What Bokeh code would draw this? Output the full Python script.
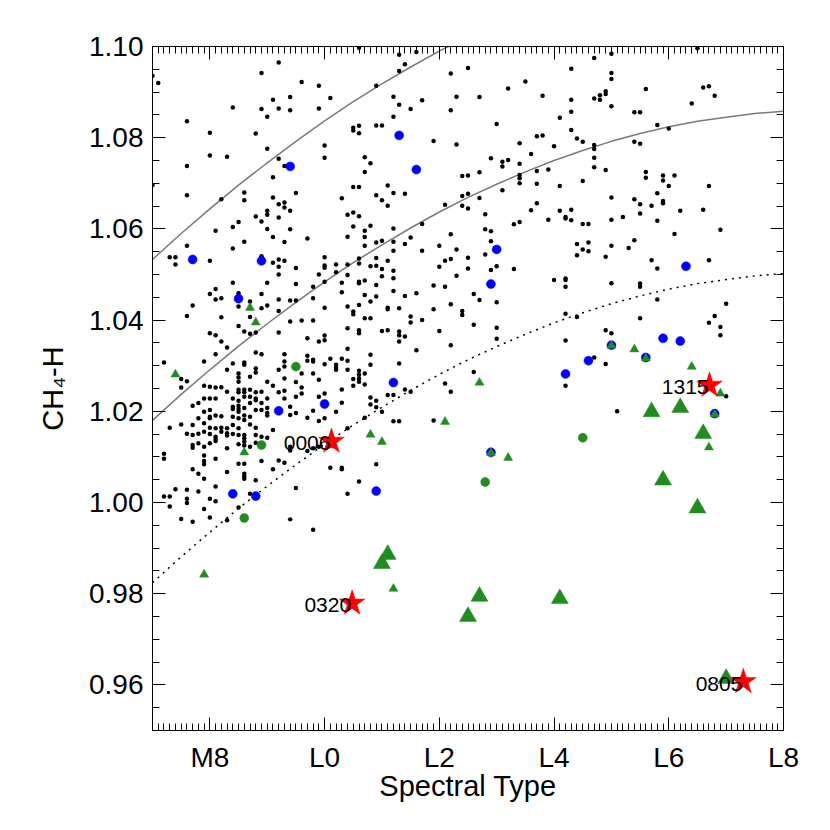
import numpy as np
from bokeh.plotting import figure
from bokeh.models import Range1d, FixedTicker, LinearAxis, CustomJSTickFormatter, PrintfTickFormatter
from bokeh.embed import file_html
from bokeh.resources import INLINE
from bokeh.core.properties import value

# ---------------- data ----------------
x_tick_values = [8, 10, 12, 14, 16, 18]
x_tick_labels = ["M8", "L0", "L2", "L4", "L6", "L8"]
y_tick_values = [0.96, 0.98, 1.00, 1.02, 1.04, 1.06, 1.08, 1.10]

# field dwarfs (spectral type, CH4-H index)
field_points = [
    (7.0,1.0936),(7.1,1.0920),(9.2,1.0965),(8.9,1.0942),(9.6,1.0922),(9.9,1.0914),(10.9,1.0914),(9.1,1.0883),
    (9.4,1.0889),(10.1,1.0887),(8.4,1.0866),(8.9,1.0863),(9.2,1.0864),(9.4,1.0860),(9.9,1.0864),(9.0,1.0846),
    (7.6,1.0836),(11.2,1.0890),(11.3,1.0872),(11.5,1.0863),(11.7,1.0882),(11.3,1.0982),(11.4,1.0961),(11.3,1.0946),
    (11.6,1.0988),(10.6,1.0997),(12.2,1.0941),(12.3,1.0890),(12.2,1.0860),(8.0,1.0811),(8.8,1.0809),(10.0,1.0783),
    (10.0,1.0756),(10.9,1.0827),(11.0,1.0827),(10.5,1.0822),(10.5,1.0816),(10.6,1.0826),(10.6,1.0810),(9.0,1.0776),
    (11.2,1.0846),(8.0,1.0761),(8.3,1.0758),(11.9,1.0793),(12.3,1.0785),(7.6,1.0738),(9.2,1.0754),(9.3,1.0738),
    (9.1,1.0713),(10.7,1.0757),(10.8,1.0744),(10.7,1.0725),(12.4,1.0716),
    (7.0,1.0696),(7.6,1.0674),(8.2,1.0665),(8.6,1.0680),(8.6,1.0663),(9.1,1.0669),(9.2,1.0654),(9.3,1.0658),
    (9.3,1.0647),(9.4,1.0640),(9.5,1.0679),(9.0,1.0640),(9.0,1.0631),(8.8,1.0627),(8.9,1.0616),(9.2,1.0625),
    (8.5,1.0615),(8.4,1.0604),(8.1,1.0596),(9.0,1.0600),(9.1,1.0582),(9.4,1.0599),(9.3,1.0571),(8.6,1.0572),
    (7.6,1.0563),(8.4,1.0557),(7.3,1.0538),(7.4,1.0538),(7.4,1.0522),(8.0,1.0530),(8.9,1.0540),(9.1,1.0526),
    (9.2,1.0533),(9.3,1.0530),(9.2,1.0517),(9.2,1.0500),(9.5,1.0514),(8.4,1.0482),(9.0,1.0482),(9.5,1.0479),
    (8.1,1.0468),(8.0,1.0457),(8.1,1.0445),(8.2,1.0448),(8.5,1.0459),(8.9,1.0457),(8.7,1.0441),(8.5,1.0430),
    (7.7,1.0432),(9.0,1.0432),(8.9,1.0426),(9.2,1.0445),(9.4,1.0443),(9.5,1.0443),(9.2,1.0420),(7.6,1.0409),
    (8.2,1.0406),(8.7,1.0407),(9.4,1.0397),(9.6,1.0399),(8.5,1.0387),
    (10.5,1.0692),(10.6,1.0692),(11.1,1.0695),(11.2,1.0679),(11.4,1.0677),(10.9,1.0674),(11.0,1.0663),(11.1,1.0651),
    (10.3,1.0667),(10.4,1.0631),(10.5,1.0636),(10.6,1.0628),(10.5,1.0605),(10.8,1.0607),(10.7,1.0596),(10.7,1.0582),
    (10.7,1.0563),(10.4,1.0583),(9.7,1.0579),(11.2,1.0601),(10.9,1.0570),(11.0,1.0574),(11.2,1.0572),(11.2,1.0552),
    (11.4,1.0567),(11.5,1.0581),(11.7,1.0611),(11.7,1.0552),(12.1,1.0653),(12.4,1.0672),(12.4,1.0651),(12.2,1.0588),
    (12.0,1.0563),(12.3,1.0555),(12.2,1.0534),(12.1,1.0530),(12.0,1.0517),(12.3,1.0497),(11.9,1.0476),(12.1,1.0473),
    (10.0,1.0538),(10.0,1.0520),(10.0,1.0515),(10.2,1.0522),(10.2,1.0505),(10.4,1.0522),(10.4,1.0499),(10.6,1.0535),
    (10.6,1.0524),(9.9,1.0500),(9.8,1.0473),(10.0,1.0484),(10.3,1.0482),(10.3,1.0461),(10.6,1.0484),(10.6,1.0481),
    (10.7,1.0487),(10.9,1.0536),(10.9,1.0519),(10.8,1.0518),(11.0,1.0512),(11.0,1.0496),(11.1,1.0530),(11.2,1.0508),
    (11.2,1.0492),(11.2,1.0464),(10.9,1.0477),(10.9,1.0452),(10.7,1.0455),(10.8,1.0441),(11.4,1.0453),(11.6,1.0459),
    (9.8,1.0448),(10.0,1.0427),(10.4,1.0430),(10.5,1.0419),(10.5,1.0413),(10.6,1.0433),(10.7,1.0404),(10.8,1.0404),
    (11.1,1.0427),(11.1,1.0424),(11.3,1.0426),(11.5,1.0408),(11.5,1.0395),(11.7,1.0400),(11.9,1.0424),(12.2,1.0435),
    (12.4,1.0420),(12.4,1.0411),(9.8,1.0399),
    (9.7,1.0360),(9.9,1.0353),(10.0,1.0366),(10.0,1.0356),(10.4,1.0382),(10.6,1.0378),(10.6,1.0371),(11.0,1.0376),
    (11.1,1.0378),(11.3,1.0375),(11.3,1.0367),(11.3,1.0353),(11.4,1.0364),(12.0,1.0376),(12.2,1.0345),(11.6,1.0334),
    (10.4,1.0337),(9.7,1.0322),(9.7,1.0311),(9.8,1.0313),(9.8,1.0309),(10.1,1.0315),(10.0,1.0303),(10.3,1.0315),
    (10.4,1.0311),(10.4,1.0291),(10.2,1.0302),(10.2,1.0296),(10.2,1.0291),(10.8,1.0324),(10.8,1.0302),(10.7,1.0283),
    (10.6,1.0289),(10.6,1.0280),(10.6,1.0272),(10.6,1.0265),(10.5,1.0271),(10.5,1.0256),(10.7,1.0259),(9.8,1.0283),
    (9.9,1.0269),(11.3,1.0305),(10.3,1.0248),(10.0,1.0239),(9.9,1.0232),(11.4,1.0248),(11.5,1.0243),(11.2,1.0236),
    (11.1,1.0236),(10.8,1.0230),(10.9,1.0223),(10.9,1.0209),(10.8,1.0215),(11.0,1.0199),(10.3,1.0219),(10.2,1.0199),
    (9.8,1.0201),(9.7,1.0186),(9.9,1.0179),(10.0,1.0185),(10.7,1.0186),(10.4,1.0163),(11.2,1.0178),(11.3,1.0178),
    (11.9,1.0180),(12.1,1.0261),(12.2,1.0243),(9.7,1.0113),(9.8,1.0119),(9.9,1.0122),
    (8.0,1.0371),(8.1,1.0367),(8.6,1.0375),(8.7,1.0370),(8.8,1.0373),(9.2,1.0373),(8.2,1.0353),(8.3,1.0340),
    (8.1,1.0325),(8.8,1.0329),(8.9,1.0325),(9.3,1.0325),(7.2,1.0307),(7.9,1.0309),(8.4,1.0305),(8.6,1.0307),
    (8.6,1.0302),(9.3,1.0309),(9.3,1.0298),(8.3,1.0291),(8.5,1.0283),(8.8,1.0294),(8.8,1.0285),(9.2,1.0291),
    (9.6,1.0283),(7.5,1.0271),(7.6,1.0266),(8.5,1.0274),(8.5,1.0265),(8.7,1.0276),(9.0,1.0265),(9.3,1.0272),
    (9.5,1.0264),(7.5,1.0252),(7.9,1.0256),(8.0,1.0254),(8.1,1.0252),(8.2,1.0253),(8.3,1.0243),(8.5,1.0247),
    (8.5,1.0242),(8.6,1.0247),(8.6,1.0242),(8.7,1.0247),(8.8,1.0242),(8.9,1.0243),(9.1,1.0256),(9.2,1.0242),
    (9.3,1.0245),(9.6,1.0252),(9.6,1.0239),(7.8,1.0218),(7.9,1.0228),(8.0,1.0228),(8.1,1.0228),(8.4,1.0228),
    (8.6,1.0232),(8.7,1.0232),(8.8,1.0228),(8.8,1.0224),(9.0,1.0228),(9.3,1.0228),(9.5,1.0232),(7.7,1.0212),
    (8.5,1.0223),(8.5,1.0212),(8.7,1.0218),(8.9,1.0218),(7.9,1.0199),(8.0,1.0203),(8.4,1.0210),(8.4,1.0205),
    (8.5,1.0205),(8.5,1.0199),(8.6,1.0207),(8.8,1.0203),(8.9,1.0203),(9.0,1.0207),(9.0,1.0196),(9.0,1.0191),
    (9.4,1.0210),(9.4,1.0192),(9.5,1.0196),(7.8,1.0185),(8.0,1.0188),(8.0,1.0185),(8.1,1.0191),(8.2,1.0189),
    (8.4,1.0188),(8.5,1.0185),(8.6,1.0191),(8.6,1.0181),(8.7,1.0188),(7.3,1.0164),(7.5,1.0171),(7.7,1.0170),
    (7.9,1.0174),(8.0,1.0164),(8.1,1.0163),(8.2,1.0164),(8.3,1.0163),(8.4,1.0170),(8.5,1.0163),(8.7,1.0171),
    (8.8,1.0164),(9.1,1.0159),(7.6,1.0151),(7.7,1.0148),(7.8,1.0151),(7.9,1.0155),(8.0,1.0150),(8.1,1.0144),
    (8.1,1.0139),(8.2,1.0155),(8.3,1.0152),(8.3,1.0147),(8.4,1.0150),(8.5,1.0148),(8.6,1.0148),(8.6,1.0141),
    (8.8,1.0148),(8.9,1.0144),(9.0,1.0142),(7.7,1.0126),(7.7,1.0120),(7.8,1.0130),(7.9,1.0122),(8.0,1.0130),
    (8.1,1.0135),(8.3,1.0119),(8.5,1.0128),(8.6,1.0133),(8.6,1.0125),(8.7,1.0122),(8.8,1.0131),(9.4,1.0122),
    (9.4,1.0114),
    (7.2,1.0107),(7.2,1.0096),(7.9,1.0103),(7.9,1.0091),(7.9,1.0084),(8.1,1.0096),(8.5,1.0085),(8.6,1.0085),
    (8.9,1.0091),(9.1,1.0073),(9.2,1.0092),(9.3,1.0087),(7.7,1.0073),(7.8,1.0063),(7.9,1.0052),(8.3,1.0067),
    (8.6,1.0063),(8.6,1.0057),(8.6,1.0052),(8.8,1.0049),(7.4,1.0029),(7.6,1.0028),(7.8,1.0024),(8.1,1.0035),
    (9.5,1.0032),(8.7,1.0019),(7.2,1.0013),(7.3,1.0013),(7.6,1.0008),(7.6,0.9999),(8.0,1.0008),(8.1,1.0003),
    (7.3,0.9991),(7.9,0.9986),(8.5,0.9989),(7.5,0.9964),(7.7,0.9958),(8.0,0.9967),(8.3,0.9961),(9.4,0.9963),
    (10.1,1.0076),(10.3,1.0076),(10.3,1.0073),(10.9,1.0084),(10.6,1.0046),(10.4,1.0019),(9.8,0.9940),
    (12.5,1.0953),(14.7,1.0975),(15.0,1.0984),(16.5,1.0996),(14.3,1.0951),(15.0,1.0942),(15.0,1.0929),(13.5,1.0923),
    (13.2,1.0908),(12.7,1.0889),(13.8,1.0892),(14.7,1.0886),(14.8,1.0893),(14.8,1.0883),(14.9,1.0902),(14.9,1.0896),
    (15.6,1.0907),(14.3,1.0883),(15.0,1.0869),(16.6,1.0910),(16.7,1.0913),(16.8,1.0892),(16.4,1.0875),(14.3,1.0857),
    (15.4,1.0856),(15.5,1.0856),(14.1,1.0844),(13.0,1.0830),(15.8,1.0828),(16.0,1.0820),(14.3,1.0817),(13.7,1.0803),
    (13.8,1.0805),(13.4,1.0788),(14.0,1.0781),(14.4,1.0798),(14.5,1.0791),(14.7,1.0784),(14.7,1.0775),(14.7,1.0756),
    (14.7,1.0735),(15.4,1.0791),(15.5,1.0787),(12.9,1.0755),(13.1,1.0747),(13.1,1.0737),(13.2,1.0751),(13.6,1.0764),
    (13.4,1.0743),(13.9,1.0730),(13.7,1.0727),(14.9,1.0729),(12.7,1.0724),(12.5,1.0717),(13.4,1.0718),(13.4,1.0711),
    (13.4,1.0700),(13.1,1.0685),(13.7,1.0699),(14.5,1.0705),(14.1,1.0694),(15.6,1.0725),(15.6,1.0712),(15.9,1.0717),
    (15.9,1.0706),(16.1,1.0717),(16.0,1.0694),(16.7,1.0694),(12.5,1.0677),(12.7,1.0668),(12.5,1.0645),(13.7,1.0656),
    (13.6,1.0641),(13.9,1.0620),(14.1,1.0640),(14.3,1.0642),(14.2,1.0626),(14.2,1.0623),(14.3,1.0619),(14.5,1.0611),
    (14.6,1.0611),(15.0,1.0669),(15.0,1.0620),(15.2,1.0626),(15.4,1.0665),(15.5,1.0654),(15.5,1.0634),(15.7,1.0651),
    (15.8,1.0678),(15.8,1.0618),(15.9,1.0661),(15.9,1.0656),(16.2,1.0640),(16.6,1.0642),(12.8,1.0632),(12.8,1.0599),
    (12.9,1.0595),(12.9,1.0573),(13.3,1.0610),(13.4,1.0615),(16.1,1.0589),(16.9,1.0598),(15.4,1.0575),(15.3,1.0558),
    (15.0,1.0563),(14.4,1.0567),(14.4,1.0542),(14.5,1.0555),(14.6,1.0570),(14.6,1.0551),(14.9,1.0539),(12.5,1.0537),
    (12.5,1.0513),(12.8,1.0544),(12.9,1.0510),(13.0,1.0518),(13.3,1.0512),(14.0,1.0488),(14.2,1.0491),(14.2,1.0488),
    (14.2,1.0473),(15.7,1.0531),(15.8,1.0513),(16.7,1.0531),(15.0,1.0481),(15.5,1.0480),(15.5,1.0473),(15.8,1.0445),
    (17.0,1.0436),(12.6,1.0457),(12.7,1.0444),(12.6,1.0390),(13.0,1.0439),(13.0,1.0383),(14.2,1.0414),(14.4,1.0407),
    (15.5,1.0404),(16.7,1.0394),(16.8,1.0409),(16.9,1.0385),
    (14.9,1.0378),(15.0,1.0371),(13.0,1.0359),(14.2,1.0355),(16.9,1.0367),(14.7,1.0318),(14.9,1.0304),(12.6,1.0286),
    (14.2,1.0256),(15.1,1.0200),(17.0,1.0233),
]
field_spt = [pt[0] for pt in field_points]
field_idx = [pt[1] for pt in field_points]

blue_spt = [11.3, 9.4, 11.6, 7.7, 8.9, 8.5, 13.0, 12.9, 16.3, 9.2, 10.0, 11.2, 8.4, 8.8, 10.9,
            15.9, 16.2, 14.2, 14.6, 15.0, 15.6, 12.9, 16.8]
blue_idx = [1.0805, 1.0737, 1.0730, 1.0533, 1.0530, 1.0447, 1.0555, 1.0479, 1.0518, 1.0201, 1.0216,
            1.0263, 1.0019, 1.0014, 1.0025, 1.0360, 1.0354, 1.0282, 1.0311, 1.0345, 1.0318, 1.0110, 1.0195]

gcirc_spt = [9.5, 8.9, 8.6, 14.5, 12.8]
gcirc_idx = [1.0298, 1.0126, 0.9966, 1.0142, 1.0045]

gtri_small_spt = [7.4, 8.7, 8.8, 8.6, 10.8, 11.0, 12.1, 7.9, 11.2, 12.7, 13.2, 15.0, 15.4, 15.6,
                  16.4, 16.9, 16.7, 12.9, 16.8, 16.7, 10.1]
gtri_small_idx = [1.0281, 1.0427, 1.0395, 1.0110, 1.0149, 1.0133, 1.0177, 0.9842, 0.9811, 1.0263,
                  1.0098, 1.0344, 1.0336, 1.0316, 1.0298, 1.0239, 1.0121, 1.0109, 1.0193, 1.0252, 1.0125]

gtri_big_spt = [11.0, 11.1, 12.5, 12.7, 14.1, 15.7, 16.2, 16.6, 15.9, 16.5, 17.0]
gtri_big_idx = [0.9866, 0.9886, 0.9750, 0.9794, 0.9789, 1.0199, 1.0208, 1.0151, 1.0049, 0.9988, 0.9614]

star_spt = [10.12, 10.48, 16.71, 17.30]
star_idx = [1.0134, 0.9779, 1.0257, 0.9607]
star_names = ["0006", "0320", "1315", "0805"]

curve_spt = [7.0, 7.5, 8.0, 8.5, 9.0, 9.5, 10.0, 10.5, 11.0, 11.5, 12.0, 12.5, 13.0, 13.5, 14.0,
             14.5, 15.0, 15.5, 16.0, 16.5, 17.0, 17.5, 18.0]
curve_mid = [1.0180, 1.0237, 1.0291, 1.0343, 1.0392, 1.0439, 1.0484, 1.0526, 1.0565, 1.0602, 1.0637,
             1.0669, 1.0698, 1.0725, 1.0750, 1.0772, 1.0792, 1.0809, 1.0824, 1.0836, 1.0845, 1.0853, 1.0858]
curve_top = [1.0533, 1.0590, 1.0644, 1.0696, 1.0745, 1.0792, 1.0837, 1.0879, 1.0918, 1.0955, 1.0990,
             1.1022, 1.1051, 1.1078, 1.1103, 1.1125, 1.1145, 1.1162, 1.1177, 1.1189, 1.1198, 1.1206, 1.1211]
curve_low = [0.9824, 0.9881, 0.9935, 0.9987, 1.0036, 1.0083, 1.0128, 1.0170, 1.0209, 1.0246, 1.0281,
             1.0313, 1.0342, 1.0369, 1.0394, 1.0416, 1.0436, 1.0453, 1.0468, 1.0480, 1.0489, 1.0497, 1.0502]

# ---------------- figure ----------------
FONT = "Liberation Sans"
p = figure(frame_width=631, frame_height=684,
           min_border_left=152, min_border_right=38, min_border_top=46, min_border_bottom=88,
           x_range=Range1d(7, 18), y_range=Range1d(0.95, 1.10),
           output_backend="svg", toolbar_location=None, tools="")
p.xgrid.visible = False
p.ygrid.visible = False
p.outline_line_color = "black"
p.outline_line_width = 1
p.background_fill_color = "white"
p.border_fill_color = "white"

x_minor = [round(v, 2) for v in np.arange(7.0, 18.001, 0.1)]
y_minor = [round(v, 3) for v in np.arange(0.95, 1.1001, 0.005)]


def style(ax, labels=True):
    ax.axis_line_color = "black"
    ax.axis_line_width = 1
    ax.major_tick_in = 13
    ax.major_tick_out = 0
    ax.minor_tick_in = 7
    ax.minor_tick_out = 0
    ax.major_tick_line_color = "black"
    ax.minor_tick_line_color = "black"
    ax.major_label_text_font = FONT
    ax.major_label_text_font_size = "28px"
    ax.major_label_text_color = "black"
    ax.axis_label_text_font = FONT
    ax.axis_label_text_font_size = "29px"
    ax.axis_label_text_font_style = "normal"
    ax.axis_label_text_color = "black"
    if not labels:
        ax.formatter = CustomJSTickFormatter(code="return ''")


xax = p.xaxis[0]
xax.ticker = FixedTicker(ticks=x_tick_values, minor_ticks=x_minor)
xax.major_label_overrides = {t: lab for t, lab in zip(x_tick_values, x_tick_labels)}
style(xax)
xax.axis_label = "Spectral Type"
xax.major_label_standoff = 11
xax.axis_label_standoff = -6

yax = p.yaxis[0]
yax.ticker = FixedTicker(ticks=y_tick_values, minor_ticks=y_minor)
yax.formatter = PrintfTickFormatter(format="%.2f")
style(yax)
yax.axis_label = "CH\u2084-H"
yax.major_label_standoff = 9
yax.axis_label_standoff = 17

top = LinearAxis(ticker=FixedTicker(ticks=x_tick_values, minor_ticks=x_minor))
style(top, labels=False)
p.add_layout(top, "above")
right = LinearAxis(ticker=FixedTicker(ticks=y_tick_values, minor_ticks=y_minor))
style(right, labels=False)
p.add_layout(right, "right")

# curves
p.line(curve_spt, curve_top, line_color="#7a7a7a", line_width=1.5)
p.line(curve_spt, curve_mid, line_color="#7a7a7a", line_width=1.5)
p.line(curve_spt, curve_low, line_color="black", line_width=1.5, line_dash="2 5")

# points
p.scatter(field_spt, field_idx, marker="circle", size=4.5, fill_color="black", line_color="black", line_width=0)
p.scatter(blue_spt, blue_idx, marker="circle", size=9, fill_color="#0000ff", line_color="#0000ff", line_width=0.5)
p.scatter(gcirc_spt, gcirc_idx, marker="circle", size=9, fill_color="#228b22", line_color="#228b22", line_width=0.5)
p.scatter(gtri_small_spt, gtri_small_idx, marker="triangle", size=9, fill_color="#228b22", line_color="#228b22", line_width=0.5)
p.scatter(gtri_big_spt, gtri_big_idx, marker="triangle", size=17, fill_color="#228b22", line_color="#228b22", line_width=0.5)
p.scatter(star_spt, star_idx, marker="star", size=27, fill_color="#ff0000", line_color="#ff0000", line_width=0.5)
p.text(star_spt, star_idx, text=star_names, text_align="right", text_baseline="alphabetic",
       x_offset=-1, y_offset=2, text_font=value(FONT), text_font_size="21px", text_color="black")

open("out.html", "w").write(file_html(p, INLINE))
